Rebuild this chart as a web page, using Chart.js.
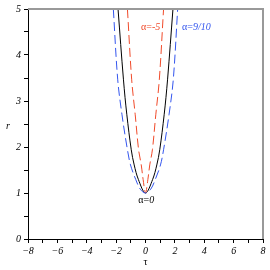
<!DOCTYPE html>
<html><head><meta charset="utf-8">
<script src="https://cdn.jsdelivr.net/npm/chart.js@4"></script>
<style>html,body{margin:0;padding:0;background:#fff}#wrap{width:270px;height:270px}</style>
</head><body><div id="wrap"><canvas id="c" width="270" height="270"></canvas></div>
<script>
// Data (tau, r)
const tauBlack = [-1.87,-1.5,-1.27,-0.97,-0.77,-0.48,0,0.48,0.77,0.97,1.27,1.5,1.87];
const rBlack   = [5,3.46,2.70,1.94,1.61,1.29,1,1.29,1.61,1.94,2.70,3.46,5];
const tauRed   = [-1.23,-0.94,-0.7,-0.47,-0.29,-0.16,0,0.16,0.29,0.47,0.7,0.94,1.23];
const rRed     = [5,3.46,2.70,1.94,1.61,1.29,1,1.29,1.61,1.94,2.70,3.46,5];
const tauBlue  = [-2.19,-1.89,-1.6,-1.23,-1.02,-0.66,-0.35,0,0.35,0.66,1.02,1.23,1.6,1.89,2.19];
const rBlue    = [5,3.46,2.70,1.94,1.61,1.29,1.08,1,1.08,1.29,1.61,1.94,2.70,3.46,5];
const xTicks = [-8,-6,-4,-2,0,2,4,6,8];
const yTicks = [0,1,2,3,4,5];
const labels = [
  {pre:'α=', txt:'-5', x:-0.3, y:4.61, color:'#f04a2a', align:'left'},
  {pre:'α=', txt:'9/10', x:2.49, y:4.61, color:'#3355ee', align:'left'},
  {pre:'α=', txt:'0', x:0.05, y:0.85, color:'#000', align:'center'}
];

const pts = (xs, ys) => xs.map((x, i) => ({x, y: ys[i]}));
const fmt = v => (v < 0 ? '\u2212' + Math.abs(v) : String(v));
const tickFont = {family: 'Liberation Serif', style: 'italic', size: 10};

const decor = {
  id: 'decor',
  afterDraw(chart) {
    const {ctx, chartArea: a, scales: {x, y}} = chart;
    ctx.save();
    ctx.strokeStyle = '#999';
    ctx.lineWidth = 2;
    ctx.beginPath();
    ctx.moveTo(a.left, a.top); ctx.lineTo(a.right, a.top); ctx.lineTo(a.right, a.bottom);
    ctx.stroke();
    ctx.textBaseline = 'middle';
    labels.forEach(l => {
      const up = '10px "Liberation Serif"', it = 'italic 10px "Liberation Serif"';
      ctx.font = up; const w1 = ctx.measureText(l.pre).width;
      ctx.font = it; const w2 = ctx.measureText(l.txt).width;
      let px = x.getPixelForValue(l.x);
      if (l.align === 'center') px -= (w1 + w2) / 2;
      const py = y.getPixelForValue(l.y);
      ctx.fillStyle = l.color;
      ctx.textAlign = 'left';
      ctx.font = up; ctx.fillText(l.pre, px, py);
      ctx.font = it; ctx.fillText(l.txt, px + w1, py);
    });
    ctx.fillStyle = '#000';
    ctx.textAlign = 'center';
    ctx.font = '10px "Liberation Serif"';
    ctx.fillText('τ', (a.left + a.right) / 2, 262);
    ctx.font = 'italic 10px "Liberation Serif"';
    ctx.fillText('r', 8, (a.top + a.bottom) / 2 + 2);
    ctx.restore();
  }
};

const common = {showLine: true, pointRadius: 0, borderWidth: 1, tension: 0.35, fill: false};
new Chart(document.getElementById('c'), {
  type: 'scatter',
  data: {datasets: [
    Object.assign({label: 'α=9/10', data: pts(tauBlue, rBlue), borderColor: '#3355ee', borderDash: [9, 4]}, common),
    Object.assign({label: 'α=-5', data: pts(tauRed, rRed), borderColor: '#f04a2a', borderDash: [9, 4]}, common),
    Object.assign({label: 'α=0', data: pts(tauBlack, rBlack), borderColor: '#000'}, common)
  ]},
  options: {
    responsive: false, animation: false, devicePixelRatio: 1,
    layout: {padding: {top: 9, right: 7, left: 0, bottom: 0}},
    plugins: {legend: {display: false}, tooltip: {enabled: false}},
    scales: {
      x: {
        type: 'linear', min: -8, max: 8,
        afterFit: s => { s.height = 31; },
        afterBuildTicks: s => { s.ticks = []; for (let v = -8; v <= 8; v++) s.ticks.push({value: v}); },
        ticks: {autoSkip: false, maxRotation: 0, padding: 2, color: '#000', font: tickFont,
          callback: v => (xTicks.includes(v) ? fmt(v) : '')},
        grid: {drawOnChartArea: false, tickLength: 4, color: '#000'},
        border: {color: '#000', width: 1}
      },
      y: {
        type: 'linear', min: 0, max: 5,
        afterFit: s => { s.width = 28; },
        afterBuildTicks: s => { s.ticks = []; for (let v = 0; v <= 10; v++) s.ticks.push({value: v / 2}); },
        ticks: {autoSkip: false, padding: 3, color: '#000', font: tickFont,
          callback: v => (yTicks.includes(v) ? fmt(v) : '')},
        grid: {drawOnChartArea: false, tickLength: 4, color: '#000'},
        border: {color: '#000', width: 1}
      }
    }
  },
  plugins: [decor]
});
</script></body></html>
